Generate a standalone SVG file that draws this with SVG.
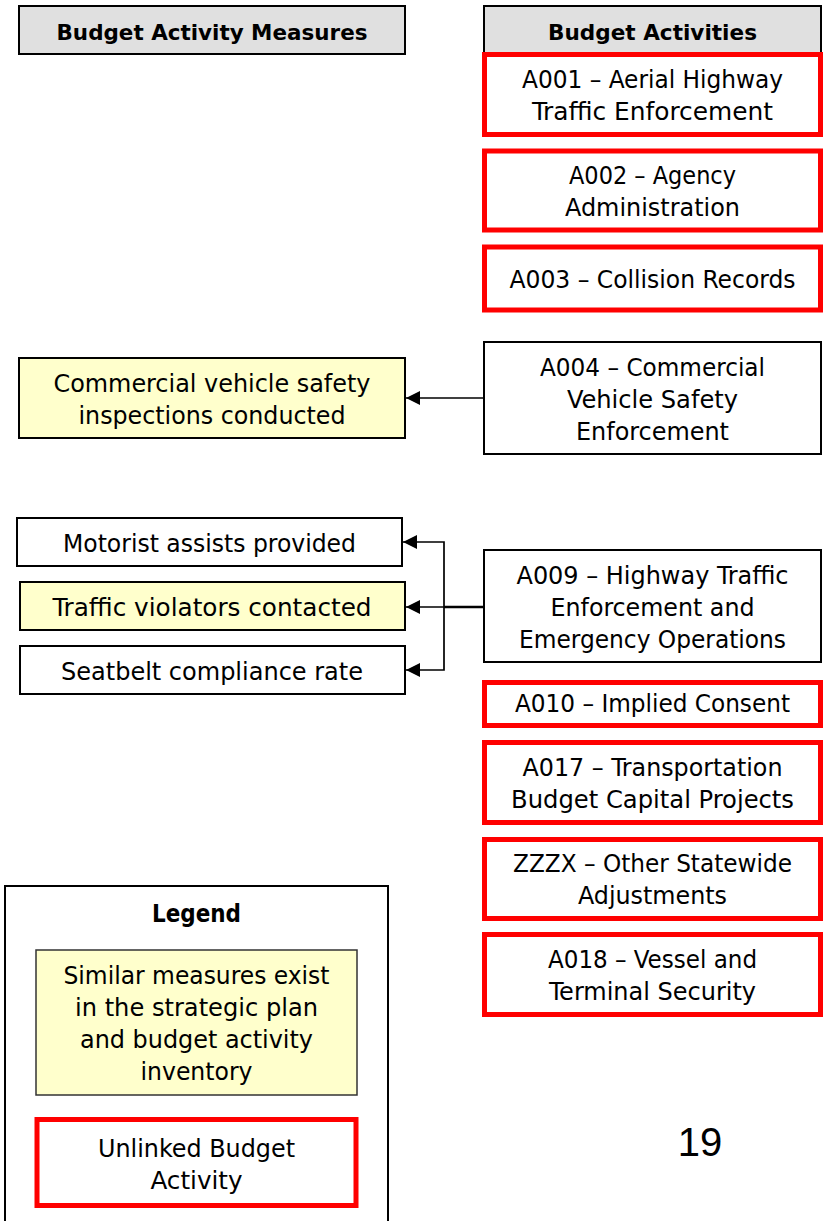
<svg xmlns="http://www.w3.org/2000/svg" width="824" height="1221" viewBox="0 0 824 1221">
  <style>
    text { font-family: "DejaVu Sans Condensed", "DejaVu Sans", "Liberation Sans", sans-serif; font-size: 24px; fill: #000; text-anchor: middle; }
    .hdr-t { font-weight: bold; font-size: 22px; }
    .leg-t { font-weight: bold; }
    .num { font-family: "Liberation Sans", Arial, sans-serif; font-size: 40px; }
    .hdr { fill: #e0e0e0; stroke: #000; stroke-width: 2; }
    .plain { fill: #fff; stroke: #000; stroke-width: 2; }
    .match { fill: #ffffcc; stroke: #000; stroke-width: 2; }
    .unlinked { fill: #fff; stroke: #ff0000; stroke-width: 5; }
    .link { fill: none; stroke: #000; stroke-width: 1.7; }
    .trunk { fill: none; stroke: #000; stroke-width: 2.5; }
  </style>
  <defs>
    <marker id="arrow" viewBox="0 0 10 10" refX="10" refY="5" markerWidth="14" markerHeight="14" markerUnits="userSpaceOnUse" orient="auto">
      <path d="M0,0 L10,5 L0,10 z" fill="#000"/>
    </marker>
  </defs>

  <!-- column headings -->
  <g id="hdr-measures">
    <rect class="hdr" x="19" y="6" width="386" height="48"/>
    <text class="hdr-t" x="212" y="40" textLength="311" lengthAdjust="spacingAndGlyphs">Budget Activity Measures</text>
  </g>
  <g id="hdr-activities">
    <rect class="hdr" x="484" y="6" width="337" height="48"/>
    <text class="hdr-t" x="652.5" y="40" textLength="209" lengthAdjust="spacingAndGlyphs">Budget Activities</text>
  </g>

  <!-- budget activities -->
  <g id="a001">
    <rect class="unlinked" x="484.5" y="54.5" width="336" height="80"/>
    <text x="652.5" y="88" textLength="261" lengthAdjust="spacingAndGlyphs">A001 – Aerial Highway</text>
    <text x="652.5" y="120" textLength="241" lengthAdjust="spacingAndGlyphs">Traffic Enforcement</text>
  </g>
  <g id="a002">
    <rect class="unlinked" x="484.5" y="151" width="336" height="79"/>
    <text x="652.5" y="184" textLength="167" lengthAdjust="spacingAndGlyphs">A002 – Agency</text>
    <text x="652.5" y="216" textLength="175" lengthAdjust="spacingAndGlyphs">Administration</text>
  </g>
  <g id="a003">
    <rect class="unlinked" x="484.5" y="247" width="336" height="63"/>
    <text x="652.5" y="288" textLength="286" lengthAdjust="spacingAndGlyphs">A003 – Collision Records</text>
  </g>
  <g id="a004">
    <rect class="plain" x="484" y="342" width="337" height="112"/>
    <text x="652.5" y="376" textLength="225" lengthAdjust="spacingAndGlyphs">A004 – Commercial</text>
    <text x="652.5" y="408" textLength="171" lengthAdjust="spacingAndGlyphs">Vehicle Safety</text>
    <text x="652.5" y="440" textLength="153" lengthAdjust="spacingAndGlyphs">Enforcement</text>
  </g>
  <g id="a009">
    <rect class="plain" x="484" y="550" width="337" height="112"/>
    <text x="652.5" y="584" textLength="272" lengthAdjust="spacingAndGlyphs">A009 – Highway Traffic</text>
    <text x="652.5" y="616" textLength="204" lengthAdjust="spacingAndGlyphs">Enforcement and</text>
    <text x="652.5" y="648" textLength="267" lengthAdjust="spacingAndGlyphs">Emergency Operations</text>
  </g>
  <g id="a010">
    <rect class="unlinked" x="484.5" y="682.5" width="336" height="43"/>
    <text x="652.5" y="712" textLength="275" lengthAdjust="spacingAndGlyphs">A010 – Implied Consent</text>
  </g>
  <g id="a017">
    <rect class="unlinked" x="484.5" y="742.5" width="336" height="80"/>
    <text x="652.5" y="776" textLength="260" lengthAdjust="spacingAndGlyphs">A017 – Transportation</text>
    <text x="652.5" y="808" textLength="283" lengthAdjust="spacingAndGlyphs">Budget Capital Projects</text>
  </g>
  <g id="zzzx">
    <rect class="unlinked" x="484.5" y="839.5" width="336" height="79"/>
    <text x="652.5" y="872" textLength="279" lengthAdjust="spacingAndGlyphs">ZZZX – Other Statewide</text>
    <text x="652.5" y="904" textLength="149" lengthAdjust="spacingAndGlyphs">Adjustments</text>
  </g>
  <g id="a018">
    <rect class="unlinked" x="484.5" y="934.5" width="336" height="80"/>
    <text x="652.5" y="968" textLength="209" lengthAdjust="spacingAndGlyphs">A018 – Vessel and</text>
    <text x="652.5" y="1000" textLength="207" lengthAdjust="spacingAndGlyphs">Terminal Security</text>
  </g>

  <!-- measures -->
  <g id="m-cvsi">
    <rect class="match" x="19" y="358" width="386" height="80"/>
    <text x="212" y="392" textLength="317" lengthAdjust="spacingAndGlyphs">Commercial vehicle safety</text>
    <text x="212" y="424" textLength="267" lengthAdjust="spacingAndGlyphs">inspections conducted</text>
  </g>
  <g id="m-motorist">
    <rect class="plain" x="17" y="518" width="385" height="48"/>
    <text x="209.5" y="552" textLength="293" lengthAdjust="spacingAndGlyphs">Motorist assists provided</text>
  </g>
  <g id="m-violators">
    <rect class="match" x="20" y="582" width="385" height="48"/>
    <text x="212" y="616" textLength="319" lengthAdjust="spacingAndGlyphs">Traffic violators contacted</text>
  </g>
  <g id="m-seatbelt">
    <rect class="plain" x="20" y="646" width="385" height="48"/>
    <text x="212" y="680" textLength="302" lengthAdjust="spacingAndGlyphs">Seatbelt compliance rate</text>
  </g>

  <!-- connectors -->
  <g id="connectors">
    <line class="link" x1="484" y1="398" x2="406" y2="398" marker-end="url(#arrow)"/>
    <line class="trunk" x1="484" y1="607" x2="444" y2="607"/>
    <line class="link" x1="444" y1="607" x2="406" y2="607" marker-end="url(#arrow)"/>
    <polyline class="link" points="444,607 444,542 403,542" marker-end="url(#arrow)"/>
    <polyline class="link" points="444,607 444,670 406,670" marker-end="url(#arrow)"/>
  </g>

  <!-- legend -->
  <g id="legend">
    <rect class="plain" x="5" y="886" width="383" height="345"/>
    <text class="leg-t" x="196.5" y="922" textLength="89" lengthAdjust="spacingAndGlyphs">Legend</text>
    <rect fill="#ffffcc" stroke="#333" stroke-width="1.5" x="36" y="950" width="321" height="145"/>
    <text x="196.5" y="984" textLength="266" lengthAdjust="spacingAndGlyphs">Similar measures exist</text>
    <text x="196.5" y="1016" textLength="243" lengthAdjust="spacingAndGlyphs">in the strategic plan</text>
    <text x="196.5" y="1048" textLength="233" lengthAdjust="spacingAndGlyphs">and budget activity</text>
    <text x="196.5" y="1080" textLength="112" lengthAdjust="spacingAndGlyphs">inventory</text>
    <rect class="unlinked" x="37" y="1119.5" width="319" height="86"/>
    <text x="196.5" y="1157" textLength="197" lengthAdjust="spacingAndGlyphs">Unlinked Budget</text>
    <text x="196.5" y="1189" textLength="92" lengthAdjust="spacingAndGlyphs">Activity</text>
  </g>

  <!-- page number -->
  <text class="num" x="700" y="1156">19</text>
</svg>
